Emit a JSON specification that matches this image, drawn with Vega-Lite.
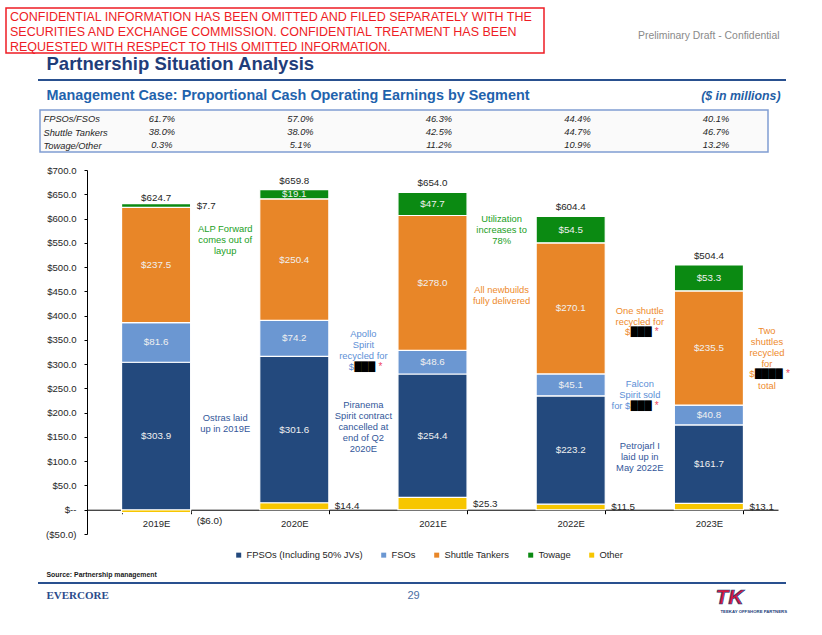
{
  "$schema": "https://vega.github.io/schema/vega-lite/v6.json",
  "background": "white",
  "padding": {"left": 5, "top": 7, "right": 5, "bottom": 5},
  "spacing": 0,
  "config": {
    "font": "Liberation Sans, Arial, sans-serif",
    "view": {"stroke": null},
    "axis": {"labelFont": "Liberation Sans, Arial, sans-serif"},
    "legend": {"labelFont": "Liberation Sans, Arial, sans-serif"}
  },
  "datasets": {
    "notice": [
      {"part": "notice", "line": 1, "text": "CONFIDENTIAL INFORMATION HAS BEEN OMITTED AND FILED SEPARATELY WITH THE"},
      {"part": "notice", "line": 2, "text": "SECURITIES AND EXCHANGE COMMISSION. CONFIDENTIAL TREATMENT HAS BEEN"},
      {"part": "notice", "line": 3, "text": "REQUESTED WITH RESPECT TO THIS OMITTED INFORMATION."}
    ],
    "page": [
      {"part": "draft", "text": "Preliminary Draft - Confidential"},
      {"part": "title", "text": "Partnership Situation Analysis"},
      {"part": "subtitle", "text": "Management Case: Proportional Cash Operating Earnings by Segment"},
      {"part": "units", "text": "($ in millions)"},
      {"part": "source", "text": "Source: Partnership management"},
      {"part": "brand", "text": "EVERCORE"},
      {"part": "pagenum", "text": "29"},
      {"part": "logo", "text": "TK"},
      {"part": "logotag", "text": "TEEKAY OFFSHORE PARTNERS"}
    ],
    "share": [
      {"row": "FPSOs/FSOs", "year": "2019E", "share": 0.617},
      {"row": "FPSOs/FSOs", "year": "2020E", "share": 0.570},
      {"row": "FPSOs/FSOs", "year": "2021E", "share": 0.463},
      {"row": "FPSOs/FSOs", "year": "2022E", "share": 0.444},
      {"row": "FPSOs/FSOs", "year": "2023E", "share": 0.401},
      {"row": "Shuttle Tankers", "year": "2019E", "share": 0.380},
      {"row": "Shuttle Tankers", "year": "2020E", "share": 0.380},
      {"row": "Shuttle Tankers", "year": "2021E", "share": 0.425},
      {"row": "Shuttle Tankers", "year": "2022E", "share": 0.447},
      {"row": "Shuttle Tankers", "year": "2023E", "share": 0.467},
      {"row": "Towage/Other", "year": "2019E", "share": 0.003},
      {"row": "Towage/Other", "year": "2020E", "share": 0.051},
      {"row": "Towage/Other", "year": "2021E", "share": 0.112},
      {"row": "Towage/Other", "year": "2022E", "share": 0.109},
      {"row": "Towage/Other", "year": "2023E", "share": 0.132}
    ],
    "seg": [
      {"year": "2019E", "segment": "Other", "value": -6.0},
      {"year": "2019E", "segment": "FPSOs (Including 50% JVs)", "value": 303.9},
      {"year": "2019E", "segment": "FSOs", "value": 81.6},
      {"year": "2019E", "segment": "Shuttle Tankers", "value": 237.5},
      {"year": "2019E", "segment": "Towage", "value": 7.7},
      {"year": "2020E", "segment": "Other", "value": 14.4},
      {"year": "2020E", "segment": "FPSOs (Including 50% JVs)", "value": 301.6},
      {"year": "2020E", "segment": "FSOs", "value": 74.2},
      {"year": "2020E", "segment": "Shuttle Tankers", "value": 250.4},
      {"year": "2020E", "segment": "Towage", "value": 19.1},
      {"year": "2021E", "segment": "Other", "value": 25.3},
      {"year": "2021E", "segment": "FPSOs (Including 50% JVs)", "value": 254.4},
      {"year": "2021E", "segment": "FSOs", "value": 48.6},
      {"year": "2021E", "segment": "Shuttle Tankers", "value": 278.0},
      {"year": "2021E", "segment": "Towage", "value": 47.7},
      {"year": "2022E", "segment": "Other", "value": 11.5},
      {"year": "2022E", "segment": "FPSOs (Including 50% JVs)", "value": 223.2},
      {"year": "2022E", "segment": "FSOs", "value": 45.1},
      {"year": "2022E", "segment": "Shuttle Tankers", "value": 270.1},
      {"year": "2022E", "segment": "Towage", "value": 54.5},
      {"year": "2023E", "segment": "Other", "value": 13.1},
      {"year": "2023E", "segment": "FPSOs (Including 50% JVs)", "value": 161.7},
      {"year": "2023E", "segment": "FSOs", "value": 40.8},
      {"year": "2023E", "segment": "Shuttle Tankers", "value": 235.5},
      {"year": "2023E", "segment": "Towage", "value": 53.3}
    ],
    "tot": [
      {"year": "2019E", "total": 624.7},
      {"year": "2020E", "total": 659.8},
      {"year": "2021E", "total": 654.0},
      {"year": "2022E", "total": 604.4},
      {"year": "2023E", "total": 504.4}
    ],
    "notes": [
      {"year": "2019E", "value": 578.4, "segment": "Towage", "text": ["ALP Forward", "comes out of", "layup"]},
      {"year": "2019E", "value": 189.6, "segment": "FPSOs (Including 50% JVs)", "text": ["Ostras laid", "up in 2019E"]},
      {"year": "2020E", "value": 362.0, "segment": "FSOs", "text": ["Apollo", "Spirit", "recycled for"]},
      {"year": "2020E", "value": 216.3, "segment": "FPSOs (Including 50% JVs)", "text": ["Piranema", "Spirit contract", "cancelled at", "end of Q2", "2020E"]},
      {"year": "2021E", "value": 599.6, "segment": "Towage", "text": ["Utilization", "increases to", "78%"]},
      {"year": "2021E", "value": 452.7, "segment": "Shuttle Tankers", "text": ["All newbuilds", "fully delivered"]},
      {"year": "2022E", "value": 409.4, "segment": "Shuttle Tankers", "text": ["One shuttle", "recycled for"]},
      {"year": "2022E", "value": 259.6, "segment": "FSOs", "text": ["Falcon", "Spirit sold"]},
      {"year": "2022E", "value": 130.6, "segment": "FPSOs (Including 50% JVs)", "text": ["Petrojarl I", "laid up in", "May 2022E"]},
      {"year": "2023E", "value": 367.6, "segment": "Shuttle Tankers", "text": ["Two", "shuttles", "recycled", "for"]},
      {"year": "2023E", "value": 255.5, "segment": "Shuttle Tankers", "text": ["total"]}
    ],
    "redact": [
      {"year": "2020E", "value": 294.6, "segment": "FSOs", "lead": "$", "hidden": "███"},
      {"year": "2022E", "value": 365.5, "segment": "Shuttle Tankers", "lead": "$", "hidden": "███"},
      {"year": "2022E", "value": 214.3, "segment": "FSOs", "lead": "for $", "hidden": "███"},
      {"year": "2023E", "value": 279.0, "segment": "Shuttle Tankers", "lead": "$", "hidden": "████"}
    ]
  },
  "vconcat": [
    {
      "spacing": 0, "bounds": "flush",
      "hconcat": [
        {
          "width": 538, "height": 45,
          "view": {"stroke": "#ee1c25", "strokeWidth": 1.5},
          "data": {"name": "notice"},
          "mark": {"type": "text", "align": "left", "baseline": "middle", "dx": 4, "fontSize": 12.5, "color": "#ee1c25"},
          "encoding": {
            "x": {"field": "part", "type": "nominal", "scale": {"align": 0}, "axis": null},
            "y": {"field": "line", "type": "ordinal", "scale": {"padding": 0.5, "align": 0.6}, "axis": null},
            "text": {"field": "text"}
          }
        },
        {"width": 235, "height": 45, "data": {"values": []}, "mark": "point"},
        {
          "width": 1, "height": 45,
          "data": {"name": "page"},
          "transform": [{"filter": "datum.part === 'draft'"}],
          "mark": {"type": "text", "align": "right", "baseline": "top", "fontSize": 10.4, "color": "#8a8a8a"},
          "encoding": {"text": {"field": "text"}}
        }
      ]
    },
    {
      "spacing": 0, "bounds": "flush",
      "hconcat": [
        {"width": 40, "height": 22.1, "data": {"values": []}, "mark": "point"},
        {
          "width": 1, "height": 16,
          "data": {"name": "page"},
          "transform": [{"filter": "datum.part === 'title'"}],
          "mark": {"type": "text", "align": "left", "baseline": "middle", "fontSize": 18.5, "fontWeight": "bold", "color": "#1f3d7a"},
          "encoding": {"text": {"field": "text"}}
        }
      ]
    },
    {
      "spacing": 0, "bounds": "flush",
      "hconcat": [
        {"width": 32, "height": 5.4, "data": {"values": []}, "mark": "point"},
        {"width": 748, "height": 2, "view": {"fill": "#29508f"}, "data": {"values": []}, "mark": "point"}
      ]
    },
    {
      "spacing": 0, "bounds": "flush",
      "hconcat": [
        {"width": 40, "height": 24, "data": {"values": []}, "mark": "point"},
        {
          "width": 1, "height": 22,
          "data": {"name": "page"},
          "transform": [{"filter": "datum.part === 'subtitle'"}],
          "mark": {"type": "text", "align": "left", "baseline": "middle", "fontSize": 14.4, "fontWeight": "bold", "color": "#1f63ad"},
          "encoding": {"text": {"field": "text"}}
        },
        {"width": 733, "height": 1, "data": {"values": []}, "mark": "point"},
        {
          "width": 1, "height": 22,
          "data": {"name": "page"},
          "transform": [{"filter": "datum.part === 'units'"}],
          "mark": {"type": "text", "align": "right", "baseline": "middle", "fontSize": 12.3, "fontWeight": "bold", "fontStyle": "italic", "color": "#1f5ea6"},
          "encoding": {"text": {"field": "text"}}
        }
      ]
    },
    {
      "spacing": 0, "bounds": "flush",
      "hconcat": [
        {"width": 34, "height": 54.25, "data": {"values": []}, "mark": "point"},
        {
          "width": 728, "height": 42,
          "view": {"stroke": "#809dd2", "strokeWidth": 1.5, "fill": "#fafafa"},
          "data": {"name": "share"},
          "mark": {"type": "text", "fontSize": 9.3, "fontStyle": "italic", "color": "#262626", "baseline": "middle"},
          "encoding": {
            "x": {"field": "year", "type": "nominal", "scale": {"type": "point", "padding": 0.628, "align": 0.701}, "axis": null},
            "y": {
              "field": "row", "type": "nominal",
              "sort": ["FPSOs/FSOs", "Shuttle Tankers", "Towage/Other"],
              "scale": {"type": "point", "padding": 0.585, "align": 0.58},
              "axis": {"title": null, "domain": false, "ticks": false, "tickSize": 0, "labelAlign": "left", "labelPadding": -3, "labelFontStyle": "italic", "labelFontSize": 9.3, "labelColor": "#262626"}
            },
            "text": {"field": "share", "type": "quantitative", "format": ".1%"}
          }
        }
      ]
    },
    {
      "spacing": 0, "bounds": "flush",
      "hconcat": [
        {"width": 81, "height": 400, "data": {"values": []}, "mark": "point"},
        {
          "width": 691, "height": 364,
          "layer": [
            {
              "data": {"name": "seg"},
              "transform": [{"window": [{"op": "row_number", "as": "idx"}]}],
              "mark": {"type": "bar", "stroke": "white", "strokeWidth": 1.2},
              "encoding": {
                "x": {
                  "field": "year", "type": "nominal",
                  "scale": {"paddingInner": 0.5, "paddingOuter": 0.25},
                  "axis": {"title": null, "orient": "bottom", "offset": -24.27, "labelAngle": 0, "tickBand": "extent", "tickSize": 4, "tickColor": "#000000", "domainColor": "#000000", "labelPadding": 5, "labelFontSize": 9.5, "labelColor": "#262626"}
                },
                "y": {
                  "field": "value", "type": "quantitative", "stack": "zero",
                  "scale": {"domain": [-50, 700], "nice": false, "zero": false},
                  "axis": {"title": null, "grid": false, "labelOverlap": false, "labelSeparation": 0, "tickCount": 15, "labelExpr": "datum.value === 0 ? '$--' : format(datum.value, '($.1f')", "tickSize": 3, "tickColor": "#000000", "domainColor": "#000000", "labelPadding": 8, "labelFontSize": 9.6, "labelColor": "#262626"}
                },
                "color": {
                  "field": "segment", "type": "nominal",
                  "scale": {"domain": ["FPSOs (Including 50% JVs)", "FSOs", "Shuttle Tankers", "Towage", "Other"], "range": ["#23497d", "#6b97d2", "#e88628", "#0b8a12", "#f7c600"]},
                  "legend": {"title": null, "orient": "none", "legendX": 228, "legendY": 542, "direction": "horizontal", "symbolType": "square", "symbolSize": 25, "symbolStrokeWidth": 0, "labelFontSize": 9.4, "labelColor": "#262626", "labelOffset": 3, "columnPadding": 16}
                },
                "order": {"field": "idx", "type": "quantitative"}
              }
            },
            {
              "data": {"name": "seg"},
              "transform": [{"window": [{"op": "row_number", "as": "idx"}]}],
              "mark": {"type": "text", "fontSize": 9.8, "color": "#f0f0f0", "baseline": "middle"},
              "encoding": {
                "x": {"field": "year", "type": "nominal"},
                "y": {"field": "value", "type": "quantitative", "stack": "zero", "bandPosition": 0.5},
                "detail": {"field": "segment", "type": "nominal"},
                "order": {"field": "idx", "type": "quantitative"},
                "text": {"condition": {"test": "datum.segment === 'Other' || datum.value < 10", "value": ""}, "field": "value", "type": "quantitative", "format": "$.1f"}
              }
            },
            {
              "data": {"name": "seg"},
              "transform": [{"window": [{"op": "row_number", "as": "idx"}]}],
              "mark": {"type": "text", "fontSize": 9.8, "color": "#262626", "align": "left", "baseline": "middle", "dx": 6},
              "encoding": {
                "x": {"field": "year", "type": "nominal", "bandPosition": 1},
                "y": {"field": "value", "type": "quantitative", "stack": "zero", "bandPosition": 0.5},
                "detail": {"field": "segment", "type": "nominal"},
                "order": {"field": "idx", "type": "quantitative"},
                "text": {"condition": {"test": "(datum.segment === 'Other' && datum.value > 0) || (datum.segment === 'Towage' && datum.value < 10)", "field": "value", "type": "quantitative", "format": "$.1f"}, "value": ""}
              }
            },
            {
              "data": {"name": "seg"},
              "transform": [{"window": [{"op": "row_number", "as": "idx"}]}],
              "mark": {"type": "text", "fontSize": 9.8, "color": "#262626", "align": "left", "baseline": "middle", "dx": 6, "dy": 10},
              "encoding": {
                "x": {"field": "year", "type": "nominal", "bandPosition": 1},
                "y": {"field": "value", "type": "quantitative", "stack": "zero", "bandPosition": 0.5},
                "detail": {"field": "segment", "type": "nominal"},
                "order": {"field": "idx", "type": "quantitative"},
                "text": {"condition": {"test": "datum.value < 0", "field": "value", "type": "quantitative", "format": "($.1f"}, "value": ""}
              }
            },
            {
              "data": {"name": "tot"},
              "mark": {"type": "text", "fontSize": 9.8, "color": "#262626", "baseline": "bottom", "dy": -4},
              "encoding": {
                "x": {"field": "year", "type": "nominal"},
                "y": {"field": "total", "type": "quantitative"},
                "text": {"field": "total", "type": "quantitative", "format": "$.1f"}
              }
            },
            {
              "data": {"name": "notes"},
              "transform": [{"filter": "datum.year !== '2023E'"}],
              "mark": {"type": "text", "fontSize": 9.4, "lineHeight": 11, "align": "center", "baseline": "middle"},
              "encoding": {
                "x": {"field": "year", "type": "nominal", "bandPosition": 1.5},
                "y": {"field": "value", "type": "quantitative"},
                "text": {"field": "text"},
                "fill": {"field": "segment", "type": "nominal", "scale": {"domain": ["FPSOs (Including 50% JVs)", "FSOs", "Shuttle Tankers", "Towage", "Other"], "range": ["#33579a", "#5d8fd6", "#ee8a2c", "#22a024", "#f7c600"]}, "legend": null}
              }
            },
            {
              "data": {"name": "notes"},
              "transform": [{"filter": "datum.year === '2023E'"}],
              "mark": {"type": "text", "fontSize": 9.4, "lineHeight": 11, "align": "center", "baseline": "middle"},
              "encoding": {
                "x": {"field": "year", "type": "nominal", "bandPosition": 1.34},
                "y": {"field": "value", "type": "quantitative"},
                "text": {"field": "text"},
                "fill": {"field": "segment", "type": "nominal", "legend": null}
              }
            },
            {
              "data": {"name": "redact"},
              "transform": [{"filter": "datum.year !== '2023E'"}],
              "mark": {"type": "text", "fontSize": 9.4, "align": "right", "baseline": "middle", "dx": -9.5},
              "encoding": {
                "x": {"field": "year", "type": "nominal", "bandPosition": 1.5},
                "y": {"field": "value", "type": "quantitative"},
                "text": {"field": "lead"},
                "fill": {"field": "segment", "type": "nominal", "legend": null}
              }
            },
            {
              "data": {"name": "redact"},
              "transform": [{"filter": "datum.year !== '2023E'"}],
              "mark": {"type": "text", "font": "DejaVu Sans", "fontSize": 9, "align": "left", "baseline": "middle", "dx": -9, "color": "#000000"},
              "encoding": {
                "x": {"field": "year", "type": "nominal", "bandPosition": 1.5},
                "y": {"field": "value", "type": "quantitative"},
                "text": {"field": "hidden"}
              }
            },
            {
              "data": {"name": "redact"},
              "transform": [{"filter": "datum.year !== '2023E'"}],
              "mark": {"type": "text", "text": "*", "fontSize": 10, "align": "left", "baseline": "middle", "dx": 15, "dy": 0, "color": "#f04a63"},
              "encoding": {
                "x": {"field": "year", "type": "nominal", "bandPosition": 1.5},
                "y": {"field": "value", "type": "quantitative"}
              }
            },
            {
              "data": {"name": "redact"},
              "transform": [{"filter": "datum.year === '2023E'"}],
              "mark": {"type": "text", "fontSize": 9.4, "align": "right", "baseline": "middle", "dx": -12.5},
              "encoding": {
                "x": {"field": "year", "type": "nominal", "bandPosition": 1.34},
                "y": {"field": "value", "type": "quantitative"},
                "text": {"field": "lead"},
                "fill": {"field": "segment", "type": "nominal", "legend": null}
              }
            },
            {
              "data": {"name": "redact"},
              "transform": [{"filter": "datum.year === '2023E'"}],
              "mark": {"type": "text", "font": "DejaVu Sans", "fontSize": 9, "align": "left", "baseline": "middle", "dx": -12, "color": "#000000"},
              "encoding": {
                "x": {"field": "year", "type": "nominal", "bandPosition": 1.34},
                "y": {"field": "value", "type": "quantitative"},
                "text": {"field": "hidden"}
              }
            },
            {
              "data": {"name": "redact"},
              "transform": [{"filter": "datum.year === '2023E'"}],
              "mark": {"type": "text", "text": "*", "fontSize": 10, "align": "left", "baseline": "middle", "dx": 19, "dy": 0, "color": "#f04a63"},
              "encoding": {
                "x": {"field": "year", "type": "nominal", "bandPosition": 1.34},
                "y": {"field": "value", "type": "quantitative"}
              }
            }
          ]
        }
      ]
    },
    {
      "spacing": 0, "bounds": "flush",
      "hconcat": [
        {"width": 40, "height": 11.7, "data": {"values": []}, "mark": "point"},
        {
          "width": 1, "height": 10,
          "data": {"name": "page"},
          "transform": [{"filter": "datum.part === 'source'"}],
          "mark": {"type": "text", "align": "left", "baseline": "middle", "fontSize": 6.9, "fontWeight": "bold", "color": "#1a1a1a"},
          "encoding": {"text": {"field": "text"}}
        }
      ]
    },
    {
      "spacing": 0, "bounds": "flush",
      "hconcat": [
        {"width": 32, "height": 2, "data": {"values": []}, "mark": "point"},
        {"width": 748, "height": 2, "view": {"fill": "#29508f"}, "data": {"values": []}, "mark": "point"}
      ]
    },
    {
      "spacing": 0, "bounds": "flush",
      "hconcat": [
        {"width": 40, "height": 30, "data": {"values": []}, "mark": "point"},
        {
          "width": 1, "height": 24,
          "data": {"name": "page"},
          "transform": [{"filter": "datum.part === 'brand'"}],
          "mark": {"type": "text", "align": "left", "baseline": "middle", "font": "Liberation Serif, DejaVu Serif, serif", "fontSize": 11, "fontWeight": "bold", "color": "#2b4a8b"},
          "encoding": {"text": {"field": "text"}}
        },
        {"width": 366, "height": 1, "data": {"values": []}, "mark": "point"},
        {
          "width": 1, "height": 24,
          "data": {"name": "page"},
          "transform": [{"filter": "datum.part === 'pagenum'"}],
          "mark": {"type": "text", "align": "center", "baseline": "middle", "fontSize": 11, "color": "#4a6fa5"},
          "encoding": {"text": {"field": "text"}}
        },
        {"width": 301, "height": 1, "data": {"values": []}, "mark": "point"},
        {
          "width": 1, "height": 30,
          "data": {"name": "page"},
          "layer": [
            {
              "transform": [{"filter": "datum.part === 'logo'"}],
              "mark": {"type": "text", "align": "left", "baseline": "middle", "dy": -1, "fontSize": 21, "fontWeight": "bold", "fontStyle": "italic", "color": "#d6173f", "stroke": "#223f7a", "strokeWidth": 0.7},
              "encoding": {"text": {"field": "text"}}
            },
            {
              "transform": [{"filter": "datum.part === 'logotag'"}],
              "mark": {"type": "text", "align": "left", "baseline": "middle", "dx": 5, "dy": 13, "fontSize": 4.3, "fontWeight": "bold", "color": "#223f7a"},
              "encoding": {"text": {"field": "text"}}
            }
          ]
        }
      ]
    }
  ]
}
